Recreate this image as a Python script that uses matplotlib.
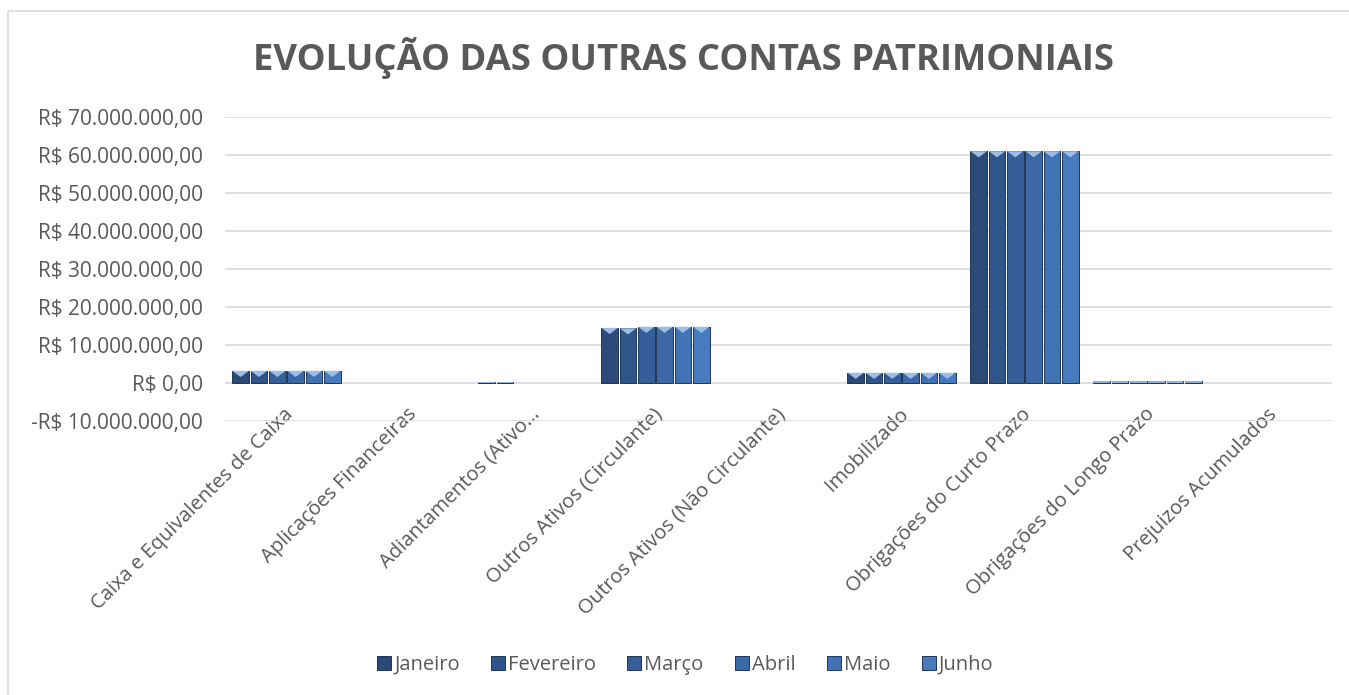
import matplotlib.pyplot as plt
import numpy as np
from matplotlib.patches import Rectangle
from matplotlib.ticker import FuncFormatter
import matplotlib.transforms as mtransforms

plt.rcParams["font.family"] = ["Open Sans", "DejaVu Sans"]

# dados
categorias = ["Caixa e Equivalentes de Caixa", "Aplicações Financeiras", "Adiantamentos (Ativo…",
              "Outros Ativos (Circulante)", "Outros Ativos (Não Circulante)", "Imobilizado",
              "Obrigações do Curto Prazo", "Obrigações do Longo Prazo", "Prejuizos Acumulados"]
meses = ["Janeiro", "Fevereiro", "Março", "Abril", "Maio", "Junho"]

janeiro   = [3.2e6, 0, 0.3e6, 14.5e6, 0, 2.7e6, 61.0e6, 0.5e6, 0]
fevereiro = [3.2e6, 0, 0.3e6, 14.4e6, 0, 2.7e6, 61.0e6, 0.5e6, 0]
marco     = [3.2e6, 0, 0,     14.8e6, 0, 2.7e6, 61.0e6, 0.5e6, 0]
abril     = [3.2e6, 0, 0,     14.8e6, 0, 2.7e6, 61.0e6, 0.5e6, 0]
maio      = [3.2e6, 0, 0,     14.8e6, 0, 2.7e6, 61.0e6, 0.5e6, 0]
junho     = [3.2e6, 0, 0,     14.8e6, 0, 2.7e6, 61.0e6, 0.5e6, 0]
series = [janeiro, fevereiro, marco, abril, maio, junho]

cores = ["#2b4a78", "#30558a", "#365f99", "#3b68a6", "#4172b3", "#467bbf"]
cinza = "#595959"

fig = plt.figure(figsize=(13.49, 6.95), dpi=100)
ax = fig.add_axes([225/1349, 1-421/695, (1332-225)/1349, (421-117)/695])

x = np.arange(len(categorias))
w = 0.149
# triangulo achatado (chanfro no topo)
chanfro = [(-1, 0), (1, 0), (0, -0.75), (-1, 0)]
handles = []
for i, (vals, cor) in enumerate(zip(series, cores)):
    pos = x + (i - 2.5) * w
    v = np.array(vals)
    bordas = ["#1e3658" if val > 0 else "none" for val in v]
    b = ax.bar(pos, v, width=w*0.9, color=cor, edgecolor=bordas, linewidth=0.7,
               label=meses[i], zorder=3)
    handles.append(b)
    m = v > 1e6
    ax.scatter(pos[m], v[m], marker=chanfro, s=140, color="#9dbde6", edgecolor="none",
               zorder=4)
    # barras muito pequenas aparecem claras
    p = (v > 0) & (v <= 1e6)
    ax.bar(pos[p], v[p], width=w*0.9, color="#8fb0dc", edgecolor="none", zorder=3)

ax.set_xlim(-0.5, len(categorias) - 0.5)
ax.set_ylim(-10e6, 70e6)
ax.set_yticks(np.arange(-10e6, 70e6 + 1, 10e6))

def reais(v, p):
    s = f"{abs(v):,.2f}".replace(",", "X").replace(".", ",").replace("X", ".")
    return ("-R$ " if v < 0 else "R$ ") + s

ax.yaxis.set_major_formatter(FuncFormatter(reais))
ax.set_xticks(x)
ax.set_xticklabels(categorias, rotation=45, ha="right", va="top", rotation_mode="anchor")
ax.tick_params(axis="both", length=0, labelsize=15, labelcolor=cinza)
ax.tick_params(axis="x", labelsize=14.5, pad=-12)
ax.tick_params(axis="y", pad=16)
desloc = mtransforms.ScaledTranslation(-3/100, 0, fig.dpi_scale_trans)
for t in ax.get_xticklabels():
    t.set_transform(t.get_transform() + desloc)

ax.grid(axis="y", color="#d9d9d9", linewidth=1.2, zorder=0)
for s in ax.spines.values():
    s.set_visible(False)

fig.text(0.5067, 1-58/695, "EVOLUÇÃO DAS OUTRAS CONTAS PATRIMONIAIS", ha="center", va="center",
         fontsize=26.2, fontweight="bold", color=cinza)

fig.legend(handles=handles, loc="center", bbox_to_anchor=(0.508, 1-665/695), ncol=6,
           frameon=False, fontsize=14.5, labelcolor=cinza, handlelength=0.7, handleheight=0.7,
           handletextpad=0.15, columnspacing=1.55)

# borda do gráfico
fig.patches.append(Rectangle((8/1349, -0.1), 1.2, 1-11/695+0.1, transform=fig.transFigure,
                             fill=False, edgecolor="#d9d9d9", linewidth=1.2))

fig.savefig("out.png", dpi=100)
